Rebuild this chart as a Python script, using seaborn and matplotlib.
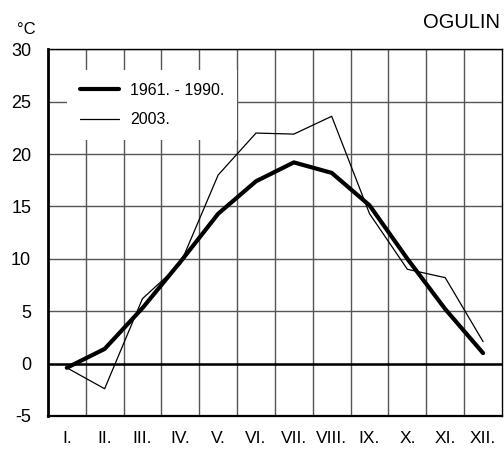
import numpy as np
import pandas as pd
import matplotlib
matplotlib.use("Agg")
import matplotlib.pyplot as plt
import seaborn as sns

# ===========================
# DATA
# ===========================

months = ["I.", "II.", "III.", "IV.", "V.", "VI.",
          "VII.", "VIII.", "IX.", "X.", "XI.", "XII."]

normal_1961_1990 = [-0.4, 1.4, 5.3, 9.7, 14.3, 17.4,
                    19.2, 18.2, 15.1, 10.0, 5.2, 1.0]

year_2003 = [-0.4, -2.4, 6.2, 9.5, 18.0, 22.0,
             21.9, 23.6, 14.3, 9.0, 8.2, 2.1]

y_ticks = [-5, 0, 5, 10, 15, 20, 25, 30]

df = pd.DataFrame({
    "pos": np.arange(len(months)),
    "normal": normal_1961_1990,
    "y2003": year_2003,
})

# ===========================
# STYLE
# ===========================

sns.set_style("white")
plt.rcParams["font.family"] = ["Liberation Sans", "DejaVu Sans"]
plt.rcParams["text.color"] = "black"
plt.rcParams["xtick.color"] = "black"
plt.rcParams["ytick.color"] = "black"

fig = plt.figure(figsize=(5.04, 4.5), dpi=100)
ax = fig.add_axes([0.095, 0.0756, 0.901, 0.815])

# ===========================
# LINES
# ===========================

sns.lineplot(data=df, x="pos", y="normal", ax=ax,
             color="black", linewidth=3.0, label="1961. - 1990.")
sns.lineplot(data=df, x="pos", y="y2003", ax=ax,
             color="black", linewidth=0.9, label="2003.")

ax.axhline(0, color="black", linewidth=1.8, zorder=1)

# ===========================
# AXES / GRID
# ===========================

ax.set_xlim(-0.5, len(months) - 0.5)
ax.set_ylim(-5, 30)

ax.set_xticks(np.arange(len(months)))
ax.set_xticklabels(months, fontsize=12.5)
ax.set_xticks(np.arange(len(months) - 1) + 0.5, minor=True)
ax.set_yticks(y_ticks)
ax.set_yticklabels([str(v) for v in y_ticks], fontsize=13)

ax.grid(False)
ax.grid(which="minor", axis="x", color="#555555", linewidth=1.0)
ax.grid(which="major", axis="y", color="#555555", linewidth=1.0)
ax.set_axisbelow(True)

ax.tick_params(axis="both", which="both", length=0)
ax.tick_params(axis="x", pad=11)
ax.tick_params(axis="y", pad=12)

ax.set_xlabel("")
ax.set_ylabel("")

for side in ["top", "right"]:
    ax.spines[side].set_linewidth(1.0)
    ax.spines[side].set_color("black")
ax.spines["left"].set_linewidth(2.0)
ax.spines["left"].set_color("black")
ax.spines["bottom"].set_linewidth(1.6)
ax.spines["bottom"].set_color("black")

# ===========================
# LEGEND
# ===========================

leg = ax.legend(
    loc="upper left",
    bbox_to_anchor=(0.042, 0.943),
    fontsize=11.5,
    frameon=True,
    framealpha=1,
    facecolor="white",
    edgecolor="none",
    fancybox=False,
    handlelength=2.45,
    handletextpad=0.7,
    labelspacing=0.9,
    borderpad=0.8,
    borderaxespad=0,
)

# ===========================
# TEXT
# ===========================

fig.text(26 / 504, 1 - 29 / 450, "°C", fontsize=12,
         ha="center", va="center")
fig.text(500 / 504, 1 - 22 / 450, "OGULIN", fontsize=14.5,
         ha="right", va="center")

fig.savefig("out.png", dpi=100)
